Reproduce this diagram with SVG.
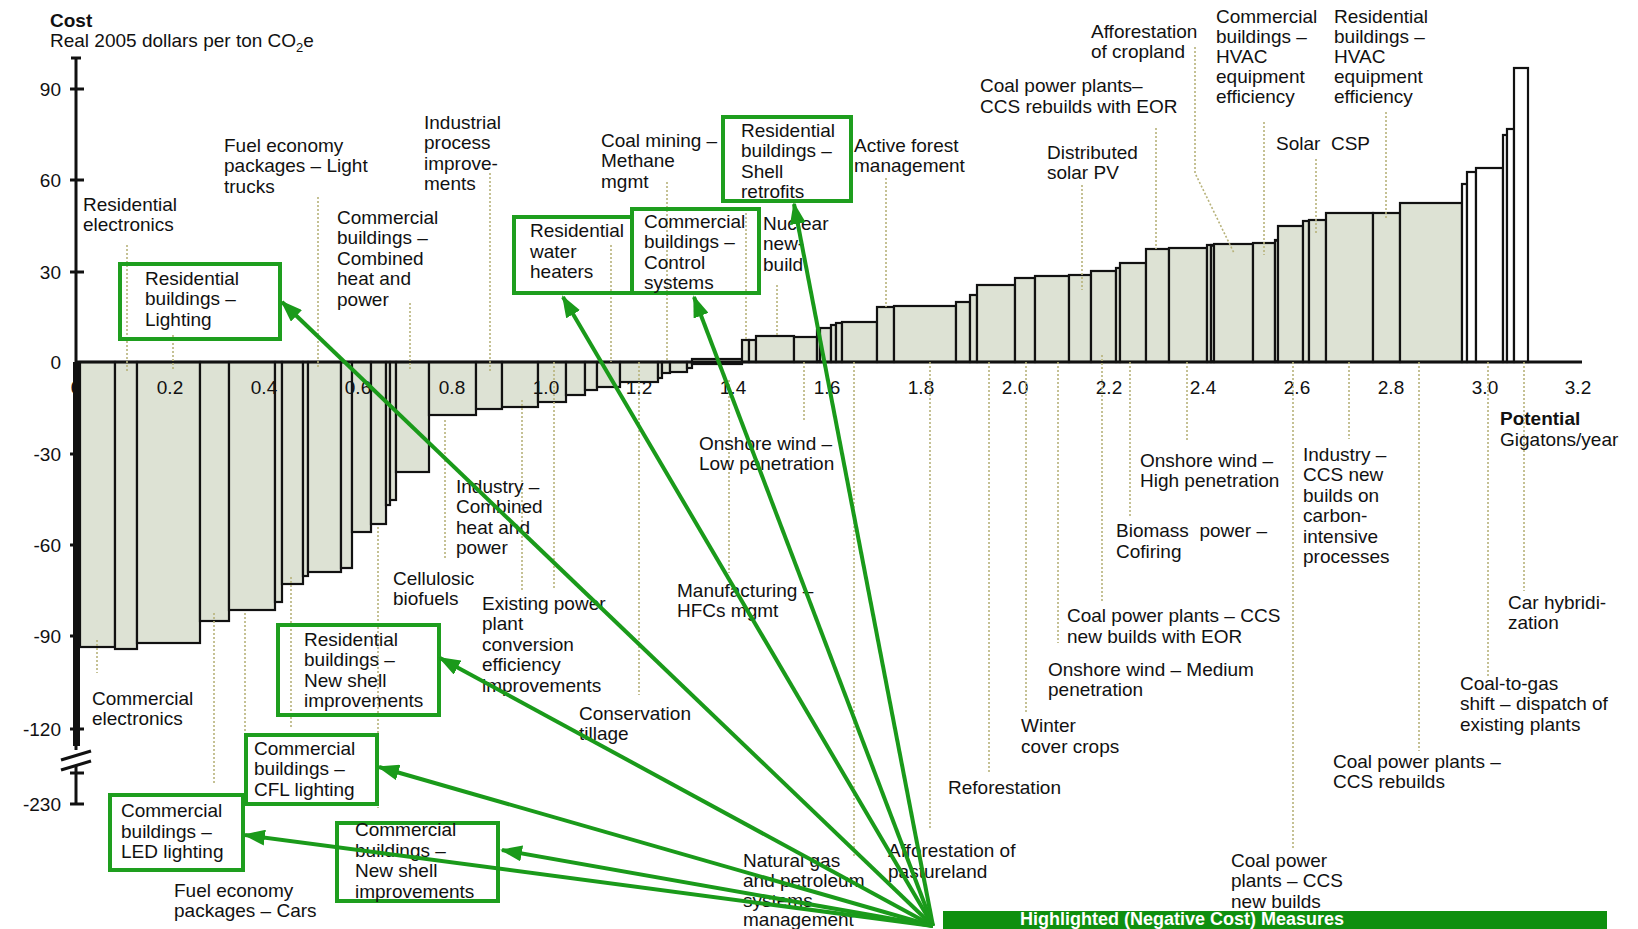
<svg xmlns="http://www.w3.org/2000/svg" width="1638" height="929" viewBox="0 0 1638 929">
<style>
text{font-family:"Liberation Sans",Arial,sans-serif;font-size:19px;fill:#111}
.b{font-weight:bold}
.bar{fill:#dde2d4;stroke:#111;stroke-width:2.2}
.wbar{fill:#fff;stroke:#111;stroke-width:2.2}
.lead{stroke:#b7b27a;stroke-width:1.6;stroke-dasharray:2 2;fill:none}
.ax{stroke:#111;stroke-width:3;fill:none}
.box{fill:none;stroke:#1e9e1e;stroke-width:4}
.arr{stroke:#1a9a1a;stroke-width:4;fill:none;marker-end:url(#ah)}
.xl{text-anchor:middle}
.yl{text-anchor:end}
.leg{font-weight:bold;font-size:18px;fill:#fff}
</style>
<defs>
<marker id="ah" markerUnits="userSpaceOnUse" markerWidth="22" markerHeight="16" refX="20" refY="8" orient="auto">
<path d="M0,0 L22,8 L0,16 Z" fill="#1a9a1a"/>
</marker>
</defs>
<rect width="1638" height="929" fill="#fff"/>

<g id="axis-titles">
<text class="b" x="50" y="27">Cost</text>
<text x="50" y="47">Real 2005 dollars per ton CO<tspan font-size="13" dy="5">2</tspan><tspan dy="-5">e</tspan></text>
<text class="b" x="1500" y="425">Potential</text>
<text x="1500" y="446">Gigatons/year</text>
</g>

<g id="y-axis">
<line class="ax" x1="76" y1="58" x2="76" y2="750"/>
<line class="ax" x1="71" y1="58" x2="81" y2="58"/>
<line class="ax" x1="70" y1="89" x2="84" y2="89"/>
<line class="ax" x1="70" y1="180" x2="84" y2="180"/>
<line class="ax" x1="70" y1="272" x2="84" y2="272"/>
<line class="ax" x1="70" y1="454" x2="84" y2="454"/>
<line class="ax" x1="70" y1="545" x2="84" y2="545"/>
<line class="ax" x1="70" y1="636" x2="84" y2="636"/>
<line class="ax" x1="70" y1="729" x2="84" y2="729"/>
<line class="ax" x1="61" y1="760" x2="91" y2="751" stroke-width="2.5"/>
<line class="ax" x1="61" y1="770" x2="91" y2="761" stroke-width="2.5"/>
<line class="ax" x1="76" y1="766" x2="76" y2="804"/>
<line class="ax" x1="70" y1="773" x2="84" y2="773"/>
<line class="ax" x1="70" y1="804" x2="84" y2="804"/>
<text class="yl" x="61" y="96">90</text>
<text class="yl" x="61" y="187">60</text>
<text class="yl" x="61" y="279">30</text>
<text class="yl" x="61" y="369">0</text>
<text class="yl" x="61" y="461">-30</text>
<text class="yl" x="61" y="552">-60</text>
<text class="yl" x="61" y="643">-90</text>
<text class="yl" x="61" y="736">-120</text>
<text class="yl" x="61" y="811">-230</text>
</g>

<g id="x-axis-labels-under">
<text class="xl" x="76" y="394">0</text>
</g>

<g id="bars">
<rect x="73" y="362" width="7" height="384" fill="#111"/>
<rect class="bar" x="80" y="362" width="35" height="285"/>
<rect class="bar" x="115" y="362" width="22" height="287"/>
<rect class="bar" x="137" y="362" width="63" height="281"/>
<rect class="bar" x="200" y="362" width="29" height="259"/>
<rect class="bar" x="229" y="362" width="46" height="248"/>
<rect class="bar" x="275" y="362" width="7" height="240"/>
<rect class="bar" x="282" y="362" width="21" height="222"/>
<rect class="bar" x="303" y="362" width="5" height="214"/>
<rect class="bar" x="308" y="362" width="33" height="210"/>
<rect class="bar" x="341" y="362" width="11" height="206"/>
<rect class="bar" x="352" y="362" width="19" height="170"/>
<rect class="bar" x="371" y="362" width="15" height="162"/>
<rect class="bar" x="386" y="362" width="4" height="143"/>
<rect class="bar" x="390" y="362" width="6" height="138"/>
<rect class="bar" x="396" y="362" width="33" height="110"/>
<rect class="bar" x="429" y="362" width="47" height="53"/>
<rect class="bar" x="476" y="362" width="26" height="47"/>
<rect class="bar" x="502" y="362" width="36" height="45"/>
<rect class="bar" x="538" y="362" width="28" height="40"/>
<rect class="bar" x="566" y="362" width="19" height="33"/>
<rect class="bar" x="585" y="362" width="12" height="28"/>
<rect class="bar" x="597" y="362" width="23" height="25"/>
<rect class="bar" x="620" y="362" width="38" height="20"/>
<rect class="bar" x="658" y="362" width="4" height="16"/>
<rect class="bar" x="662" y="362" width="8" height="11"/>
<rect class="bar" x="670" y="362" width="17" height="10"/>
<rect class="bar" x="687" y="362" width="5" height="6"/>
<rect class="bar" x="692" y="359" width="50" height="5"/>
<rect class="bar" x="742" y="340" width="7" height="22"/>
<rect class="bar" x="749" y="340" width="7" height="22"/>
<rect class="bar" x="756" y="336" width="38" height="26"/>
<rect class="bar" x="794" y="337" width="23" height="25"/>
<rect class="bar" x="817" y="330" width="3" height="32"/>
<rect class="bar" x="820" y="328" width="11" height="34"/>
<rect class="bar" x="831" y="325" width="5" height="37"/>
<rect class="bar" x="836" y="323" width="6" height="39"/>
<rect class="bar" x="842" y="322" width="35" height="40"/>
<rect class="bar" x="877" y="307" width="17" height="55"/>
<rect class="bar" x="894" y="306" width="62" height="56"/>
<rect class="bar" x="956" y="302" width="14" height="60"/>
<rect class="bar" x="970" y="295" width="7" height="67"/>
<rect class="bar" x="977" y="285" width="38" height="77"/>
<rect class="bar" x="1015" y="278" width="20" height="84"/>
<rect class="bar" x="1035" y="276" width="34" height="86"/>
<rect class="bar" x="1069" y="275" width="22" height="87"/>
<rect class="bar" x="1091" y="271" width="25" height="91"/>
<rect class="bar" x="1116" y="268" width="4" height="94"/>
<rect class="bar" x="1120" y="263" width="26" height="99"/>
<rect class="bar" x="1146" y="249" width="23" height="113"/>
<rect class="bar" x="1169" y="248" width="38" height="114"/>
<rect class="bar" x="1207" y="245" width="4" height="117"/>
<rect class="bar" x="1211" y="245" width="3" height="117"/>
<rect class="bar" x="1214" y="244" width="39" height="118"/>
<rect class="bar" x="1253" y="243" width="22" height="119"/>
<rect class="bar" x="1275" y="240" width="3" height="122"/>
<rect class="bar" x="1278" y="226" width="25" height="136"/>
<rect class="bar" x="1303" y="221" width="6" height="141"/>
<rect class="bar" x="1309" y="220" width="17" height="142"/>
<rect class="bar" x="1326" y="213" width="47" height="149"/>
<rect class="bar" x="1373" y="213" width="27" height="149"/>
<rect class="bar" x="1400" y="203" width="62" height="159"/>
<rect class="wbar" x="1462" y="184" width="5" height="178"/>
<rect class="wbar" x="1467" y="172" width="9" height="190"/>
<rect class="wbar" x="1476" y="168" width="27" height="194"/>
<rect class="wbar" x="1503" y="135" width="4" height="227"/>
<rect class="wbar" x="1507" y="129" width="7" height="233"/>
<rect class="wbar" x="1514" y="68" width="14" height="294"/>
<line class="ax" x1="76" y1="362" x2="1582" y2="362"/>
</g>

<g id="x-axis-labels">
<text class="xl" x="170" y="394">0.2</text>
<text class="xl" x="264" y="394">0.4</text>
<text class="xl" x="358" y="394">0.6</text>
<text class="xl" x="452" y="394">0.8</text>
<text class="xl" x="546" y="394">1.0</text>
<text class="xl" x="639" y="394">1.2</text>
<text class="xl" x="733" y="394">1.4</text>
<text class="xl" x="827" y="394">1.6</text>
<text class="xl" x="921" y="394">1.8</text>
<text class="xl" x="1015" y="394">2.0</text>
<text class="xl" x="1109" y="394">2.2</text>
<text class="xl" x="1203" y="394">2.4</text>
<text class="xl" x="1297" y="394">2.6</text>
<text class="xl" x="1391" y="394">2.8</text>
<text class="xl" x="1485" y="394">3.0</text>
<text class="xl" x="1578" y="394">3.2</text>
</g>

<g id="leaders">
<line class="lead" x1="127" y1="245" x2="127" y2="373"/>
<line class="lead" x1="173" y1="335" x2="173" y2="370"/>
<line class="lead" x1="318" y1="197" x2="318" y2="367"/>
<line class="lead" x1="410" y1="303" x2="410" y2="370"/>
<line class="lead" x1="490" y1="173" x2="490" y2="373"/>
<line class="lead" x1="611" y1="245" x2="611" y2="362"/>
<line class="lead" x1="667" y1="182" x2="667" y2="362"/>
<line class="lead" x1="746" y1="213" x2="746" y2="340"/>
<line class="lead" x1="777" y1="285" x2="777" y2="337"/>
<line class="lead" x1="886" y1="178" x2="886" y2="307"/>
<line class="lead" x1="1082" y1="185" x2="1082" y2="290"/>
<line class="lead" x1="1156" y1="128" x2="1156" y2="249"/>
<polyline class="lead" points="1195,47 1195,173 1234,253"/>
<line class="lead" x1="1264" y1="122" x2="1264" y2="255"/>
<line class="lead" x1="1316" y1="159" x2="1316" y2="233"/>
<line class="lead" x1="1386" y1="112" x2="1386" y2="220"/>
<line class="lead" x1="97" y1="640" x2="97" y2="673"/>
<line class="lead" x1="214" y1="613" x2="214" y2="785"/>
<line class="lead" x1="245" y1="613" x2="245" y2="800"/>
<line class="lead" x1="291" y1="577" x2="291" y2="728"/>
<line class="lead" x1="378" y1="527" x2="378" y2="808"/>
<line class="lead" x1="445" y1="420" x2="445" y2="560"/>
<line class="lead" x1="522" y1="400" x2="522" y2="590"/>
<line class="lead" x1="554" y1="362" x2="554" y2="590"/>
<line class="lead" x1="639" y1="362" x2="639" y2="695"/>
<line class="lead" x1="729" y1="380" x2="729" y2="573"/>
<line class="lead" x1="804" y1="362" x2="804" y2="422"/>
<line class="lead" x1="854" y1="362" x2="854" y2="857"/>
<line class="lead" x1="930" y1="362" x2="930" y2="830"/>
<line class="lead" x1="989" y1="362" x2="989" y2="772"/>
<line class="lead" x1="1026" y1="362" x2="1026" y2="712"/>
<line class="lead" x1="1058" y1="362" x2="1058" y2="643"/>
<line class="lead" x1="1102" y1="355" x2="1102" y2="601"/>
<line class="lead" x1="1130" y1="362" x2="1130" y2="516"/>
<line class="lead" x1="1187" y1="362" x2="1187" y2="441"/>
<line class="lead" x1="1293" y1="362" x2="1293" y2="848"/>
<line class="lead" x1="1349" y1="362" x2="1349" y2="439"/>
<line class="lead" x1="1419" y1="362" x2="1419" y2="751"/>
<line class="lead" x1="1488" y1="362" x2="1488" y2="676"/>
<line class="lead" x1="1524" y1="362" x2="1524" y2="591"/>
</g>

<g id="labels">
<text x="83" y="210.5">Residential<tspan x="83" dy="20.5">electronics</tspan></text>
<text x="224" y="151.5">Fuel economy<tspan x="224" dy="20.5">packages – Light</tspan><tspan x="224" dy="20.5">trucks</tspan></text>
<text x="424" y="128.5">Industrial<tspan x="424" dy="20.5">process</tspan><tspan x="424" dy="20.5">improve-</tspan><tspan x="424" dy="20.5">ments</tspan></text>
<text x="337" y="223.5">Commercial<tspan x="337" dy="20.5">buildings –</tspan><tspan x="337" dy="20.5">Combined</tspan><tspan x="337" dy="20.5">heat and</tspan><tspan x="337" dy="20.5">power</tspan></text>
<text x="601" y="146.5">Coal mining –<tspan x="601" dy="20.5">Methane</tspan><tspan x="601" dy="20.5">mgmt</tspan></text>
<text x="763" y="229.5">Nuclear<tspan x="763" dy="20.5">new-</tspan><tspan x="763" dy="20.5">build</tspan></text>
<text x="854" y="151.5">Active forest<tspan x="854" dy="20.5">management</tspan></text>
<text x="980" y="92">Coal power plants–<tspan x="980" dy="20.5">CCS rebuilds with EOR</tspan></text>
<text x="1047" y="158.5">Distributed<tspan x="1047" dy="20.5">solar PV</tspan></text>
<text x="1091" y="37.5">Afforestation<tspan x="1091" dy="20.5">of cropland</tspan></text>
<text x="1216" y="23">Commercial<tspan x="1216" dy="20">buildings –</tspan><tspan x="1216" dy="20">HVAC</tspan><tspan x="1216" dy="20">equipment</tspan><tspan x="1216" dy="20">efficiency</tspan></text>
<text x="1334" y="23">Residential<tspan x="1334" dy="20">buildings –</tspan><tspan x="1334" dy="20">HVAC</tspan><tspan x="1334" dy="20">equipment</tspan><tspan x="1334" dy="20">efficiency</tspan></text>
<text x="1276" y="150" xml:space="preserve">Solar  CSP</text>
<text x="699" y="449.5">Onshore wind –<tspan x="699" dy="20.5">Low penetration</tspan></text>
<text x="456" y="492.5">Industry –<tspan x="456" dy="20.5">Combined</tspan><tspan x="456" dy="20.5">heat and</tspan><tspan x="456" dy="20.5">power</tspan></text>
<text x="393" y="584.5">Cellulosic<tspan x="393" dy="20.5">biofuels</tspan></text>
<text x="482" y="609.5">Existing power<tspan x="482" dy="20.5">plant</tspan><tspan x="482" dy="20.5">conversion</tspan><tspan x="482" dy="20.5">efficiency</tspan><tspan x="482" dy="20.5">improvements</tspan></text>
<text x="677" y="596.5">Manufacturing –<tspan x="677" dy="20.5">HFCs mgmt</tspan></text>
<text x="579" y="719.5">Conservation<tspan x="579" dy="20.5">tillage</tspan></text>
<text x="92" y="704.5">Commercial<tspan x="92" dy="20.5">electronics</tspan></text>
<text x="174" y="896.5">Fuel economy<tspan x="174" dy="20.5">packages – Cars</tspan></text>
<text x="743" y="867">Natural gas<tspan x="743" dy="20">and petroleum</tspan><tspan x="743" dy="20">systems</tspan><tspan x="743" dy="19">management</tspan></text>
<text x="888" y="857">Afforestation of<tspan x="888" dy="20.5">pastureland</tspan></text>
<text x="948" y="793.5">Reforestation</text>
<text x="1021" y="732">Winter<tspan x="1021" dy="20.5">cover crops</tspan></text>
<text x="1048" y="675.5">Onshore wind – Medium<tspan x="1048" dy="20.5">penetration</tspan></text>
<text x="1067" y="622">Coal power plants – CCS<tspan x="1067" dy="20.5">new builds with EOR</tspan></text>
<text x="1116" y="537" xml:space="preserve">Biomass  power –<tspan x="1116" dy="20.5">Cofiring</tspan></text>
<text x="1140" y="466.5">Onshore wind –<tspan x="1140" dy="20.5">High penetration</tspan></text>
<text x="1303" y="460.5">Industry –<tspan x="1303" dy="20.5">CCS new</tspan><tspan x="1303" dy="20.5">builds on</tspan><tspan x="1303" dy="20.5">carbon-</tspan><tspan x="1303" dy="20.5">intensive</tspan><tspan x="1303" dy="20.5">processes</tspan></text>
<text x="1508" y="608.5">Car hybridi-<tspan x="1508" dy="20.5">zation</tspan></text>
<text x="1460" y="689.5">Coal-to-gas<tspan x="1460" dy="20.5">shift – dispatch of</tspan><tspan x="1460" dy="20.5">existing plants</tspan></text>
<text x="1333" y="767.5">Coal power plants –<tspan x="1333" dy="20.5">CCS rebuilds</tspan></text>
<text x="1231" y="866.5">Coal power<tspan x="1231" dy="20.5">plants – CCS</tspan><tspan x="1231" dy="20.5">new builds</tspan></text>
</g>

<g id="highlight-res-lighting">
<rect class="box" x="120" y="264" width="160" height="75"/>
<text x="145" y="284.5">Residential<tspan x="145" dy="20.5">buildings –</tspan><tspan x="145" dy="20.5">Lighting</tspan></text>
</g>
<g id="highlight-res-water">
<rect class="box" x="514" y="217" width="118" height="76"/>
<text x="530" y="237">Residential<tspan x="530" dy="20.5">water</tspan><tspan x="530" dy="20.5">heaters</tspan></text>
</g>
<g id="highlight-com-control">
<rect class="box" x="632" y="209" width="127" height="84"/>
<text x="644" y="227.5">Commercial<tspan x="644" dy="20.5">buildings –</tspan><tspan x="644" dy="20.5">Control</tspan><tspan x="644" dy="20.5">systems</tspan></text>
</g>
<g id="highlight-res-shell">
<rect class="box" x="723" y="117" width="128" height="84"/>
<text x="741" y="136.5">Residential<tspan x="741" dy="20.5">buildings –</tspan><tspan x="741" dy="20.5">Shell</tspan><tspan x="741" dy="20.5">retrofits</tspan></text>
</g>
<g id="highlight-res-newshell">
<rect class="box" x="278" y="625" width="161" height="90"/>
<text x="304" y="645.5">Residential<tspan x="304" dy="20.5">buildings –</tspan><tspan x="304" dy="20.5">New shell</tspan><tspan x="304" dy="20.5">improvements</tspan></text>
</g>
<g id="highlight-com-cfl">
<rect class="box" x="246" y="735" width="131" height="69"/>
<text x="254" y="754.5">Commercial<tspan x="254" dy="20.5">buildings –</tspan><tspan x="254" dy="20.5">CFL lighting</tspan></text>
</g>
<g id="highlight-com-led">
<rect class="box" x="110" y="795" width="133" height="75"/>
<text x="121" y="817">Commercial<tspan x="121" dy="20.5">buildings –</tspan><tspan x="121" dy="20.5">LED lighting</tspan></text>
</g>
<g id="highlight-com-newshell">
<rect class="box" x="337" y="823" width="161" height="78"/>
<text x="355" y="836">Commercial<tspan x="355" dy="20.5">buildings –</tspan><tspan x="355" dy="20.5">New shell</tspan><tspan x="355" dy="20.5">improvements</tspan></text>
</g>

<g id="connectors">
<line class="arr" x1="933" y1="926" x2="282" y2="302"/>
<line class="arr" x1="933" y1="926" x2="563" y2="297"/>
<line class="arr" x1="933" y1="926" x2="694" y2="297"/>
<line class="arr" x1="933" y1="926" x2="794" y2="204"/>
<line class="arr" x1="933" y1="926" x2="440" y2="658"/>
<line class="arr" x1="933" y1="926" x2="379" y2="767"/>
<line class="arr" x1="933" y1="926" x2="502" y2="850"/>
<line class="arr" x1="933" y1="926" x2="245" y2="835"/>
</g>

<g id="legend-bar">
<rect x="943" y="911" width="664" height="18" fill="#0f8f0f"/>
<text class="leg" x="1020" y="925">Highlighted (Negative Cost) Measures</text>
</g>
</svg>
